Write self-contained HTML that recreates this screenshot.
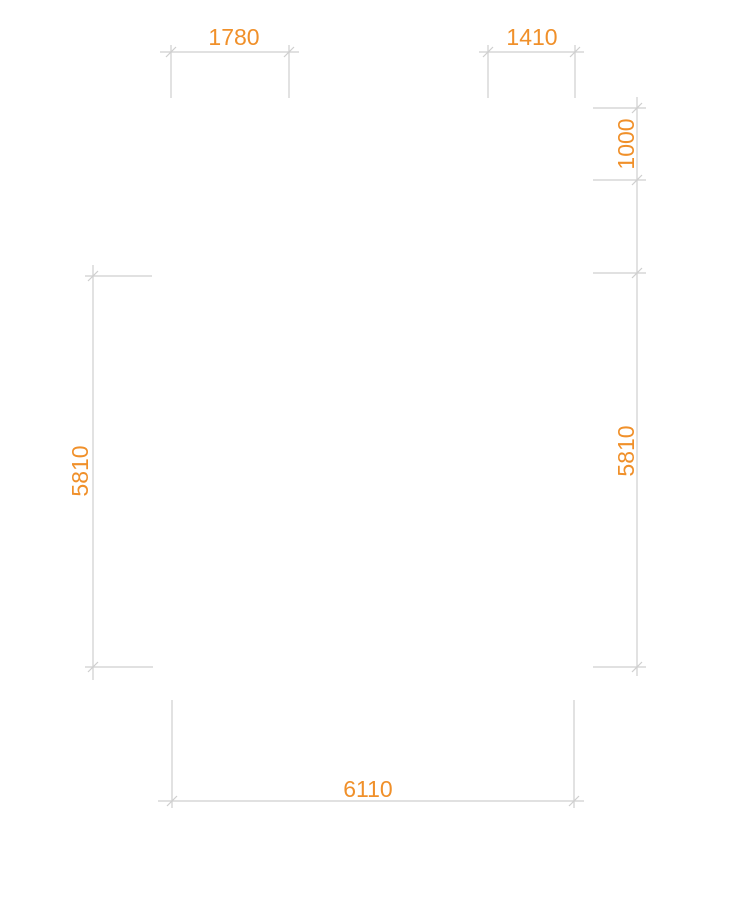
<!DOCTYPE html>
<html><head><meta charset="utf-8"><style>
html,body{margin:0;padding:0;background:#fff;}
svg{display:block;}
text{font-family:"Liberation Sans",sans-serif;font-size:23px;fill:#f0902a;}
</style></head><body>
<svg width="739" height="899" viewBox="0 0 739 899" xmlns="http://www.w3.org/2000/svg">
<g stroke="#cfcfcf" stroke-width="1.2" fill="none">
<line x1="160" y1="52" x2="299" y2="52"/>
<line x1="171" y1="45" x2="171" y2="98"/>
<line x1="289" y1="45" x2="289" y2="98"/>
<line x1="166" y1="57" x2="176" y2="47"/>
<line x1="284" y1="57" x2="294" y2="47"/>
<line x1="479" y1="52" x2="584" y2="52"/>
<line x1="488" y1="45" x2="488" y2="98"/>
<line x1="575" y1="45" x2="575" y2="98"/>
<line x1="483" y1="57" x2="493" y2="47"/>
<line x1="570" y1="57" x2="580" y2="47"/>
<line x1="637" y1="97" x2="637" y2="676"/>
<line x1="593" y1="108" x2="646" y2="108"/>
<line x1="593" y1="180" x2="646" y2="180"/>
<line x1="593" y1="273" x2="646" y2="273"/>
<line x1="593" y1="667" x2="646" y2="667"/>
<line x1="632" y1="113" x2="642" y2="103"/>
<line x1="632" y1="185" x2="642" y2="175"/>
<line x1="632" y1="278" x2="642" y2="268"/>
<line x1="632" y1="672" x2="642" y2="662"/>
<line x1="93" y1="265" x2="93" y2="680"/>
<line x1="85" y1="276" x2="152" y2="276"/>
<line x1="85" y1="667" x2="153" y2="667"/>
<line x1="88" y1="281" x2="98" y2="271"/>
<line x1="88" y1="672" x2="98" y2="662"/>
<line x1="158" y1="801" x2="584" y2="801"/>
<line x1="172" y1="700" x2="172" y2="808"/>
<line x1="574" y1="700" x2="574" y2="808"/>
<line x1="167" y1="806" x2="177" y2="796"/>
<line x1="569" y1="806" x2="579" y2="796"/>
</g>
<text x="234" y="45" text-anchor="middle">1780</text>
<text x="532" y="45" text-anchor="middle">1410</text>
<text x="368" y="797" text-anchor="middle">6110</text>
<text transform="translate(634,144) rotate(-90)" text-anchor="middle">1000</text>
<text transform="translate(634,451) rotate(-90)" text-anchor="middle">5810</text>
<text transform="translate(88,471) rotate(-90)" text-anchor="middle">5810</text>
</svg>
</body></html>
